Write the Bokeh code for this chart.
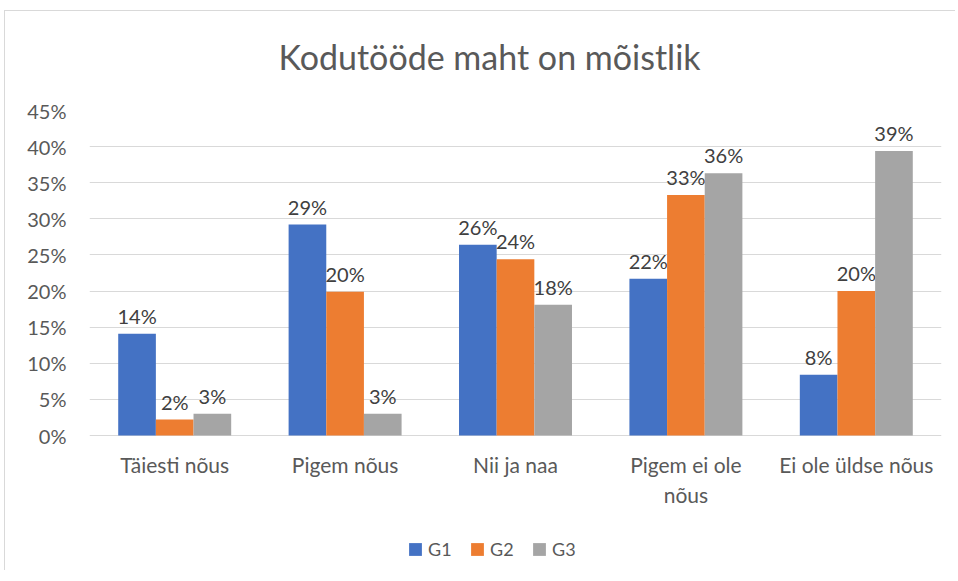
from bokeh.plotting import figure
from bokeh.models import (ColumnDataSource, FactorRange, Legend, LegendItem,
                          NumeralTickFormatter, Range1d, Title, FixedTicker)
from bokeh.transform import dodge
from bokeh.embed import file_html
from bokeh.resources import INLINE
from bokeh.core.properties import value

# ---- data ----
categories = ["Täiesti nõus", "Pigem nõus", "Nii ja naa", "Pigem ei ole\nnõus", "Ei ole üldse nõus"]
series_names = ["G1", "G2", "G3"]
g1 = [0.141, 0.292, 0.264, 0.217, 0.084]
g2 = [0.022, 0.199, 0.244, 0.333, 0.200]
g3 = [0.030, 0.030, 0.181, 0.363, 0.394]
y_ticks = [0.0, 0.05, 0.10, 0.15, 0.20, 0.25, 0.30, 0.35, 0.40, 0.45]
title_text = "Kodutööde maht on mõistlik"

colors = ["#4472C4", "#ED7D31", "#A5A5A5"]
FONT = "Lato"
TXT = "#595959"

# layout: value area 325 px tall, frame extended below zero to hold labels + legend
PLOT_H = 325
FRAME_H = 460
Y_MAX = 0.45
y_min = -(FRAME_H - PLOT_H) / PLOT_H * Y_MAX

src = ColumnDataSource(dict(
    cat=categories,
    G1=g1, G2=g2, G3=g3,
    G1_lbl=[f"{v*100:.0f}%" for v in g1],
    G2_lbl=[f"{v*100:.0f}%" for v in g2],
    G3_lbl=[f"{v*100:.0f}%" for v in g3],
))

p = figure(frame_width=852, frame_height=FRAME_H, output_backend="svg", toolbar_location=None,
           x_range=FactorRange(factors=categories, range_padding=0),
           y_range=Range1d(y_min, Y_MAX),
           min_border_left=84, min_border_right=14,
           min_border_top=99, min_border_bottom=0)
p.styles = {"border-top": "1px solid #D9D9D9", "border-left": "1px solid #D9D9D9",
            "margin-left": "4px", "margin-top": "10px"}

# spacer (closest to the frame) then the real title
p.add_layout(Title(text=" ", text_font_size="10px", standoff=20, text_font=FONT), "above")
p.add_layout(Title(text=title_text, align="left", text_font_size="34px",
                   text_font=FONT, text_color=TXT, text_font_style="normal",
                   standoff=0, offset=189), "above")

bw = 0.221
offsets = [-bw, 0.0, bw]
items = []
for name, col, off in zip(series_names, colors, offsets):
    r = p.vbar(x=dodge("cat", off, range=p.x_range), top=name, bottom=0, width=bw,
               source=src, fill_color=col, line_color=None)
    p.text(x=dodge("cat", off, range=p.x_range), y=name, text=name + "_lbl",
           source=src, text_align="center", text_baseline="alphabetic",
           y_offset=-18, text_font=value(FONT), text_font_size="20px",
           text_color="#404040")
    items.append(LegendItem(label=name, renderers=[r]))

p.yaxis.ticker = FixedTicker(ticks=y_ticks)
p.yaxis.formatter = NumeralTickFormatter(format="0%")
p.yaxis.axis_line_color = None
p.yaxis.major_tick_line_color = None
p.yaxis.minor_tick_line_color = None
p.yaxis.major_tick_out = 0
p.yaxis.major_tick_in = 0
p.yaxis.major_label_standoff = 23
p.yaxis.major_label_text_font = FONT
p.yaxis.major_label_text_font_size = "20px"
p.yaxis.major_label_text_color = TXT

p.xaxis.fixed_location = 0
p.xaxis.axis_line_color = None
p.xaxis.major_tick_line_color = None
p.xaxis.minor_tick_line_color = None
p.xaxis.major_tick_out = 0
p.xaxis.major_tick_in = 0
p.xaxis.major_label_standoff = 16
p.xaxis.major_label_text_font = FONT
p.xaxis.major_label_text_font_size = "21px"
p.xaxis.major_label_text_line_height = 1.2
p.xaxis.major_label_text_color = TXT

p.xgrid.grid_line_color = None
p.ygrid.ticker = FixedTicker(ticks=y_ticks)
p.ygrid.grid_line_color = "#D9D9D9"
p.ygrid.grid_line_width = 1
p.outline_line_color = None

legend = Legend(items=items, orientation="horizontal", location=(318, 10),
                glyph_width=16, glyph_height=16, label_standoff=5, spacing=16,
                label_width=25, label_height=20,
                label_text_font=FONT, label_text_font_size="18px",
                label_text_color=TXT, border_line_color=None,
                background_fill_alpha=0, margin=0, padding=0)
p.add_layout(legend, "center")

open("out.html", "w").write(file_html(p, INLINE))
